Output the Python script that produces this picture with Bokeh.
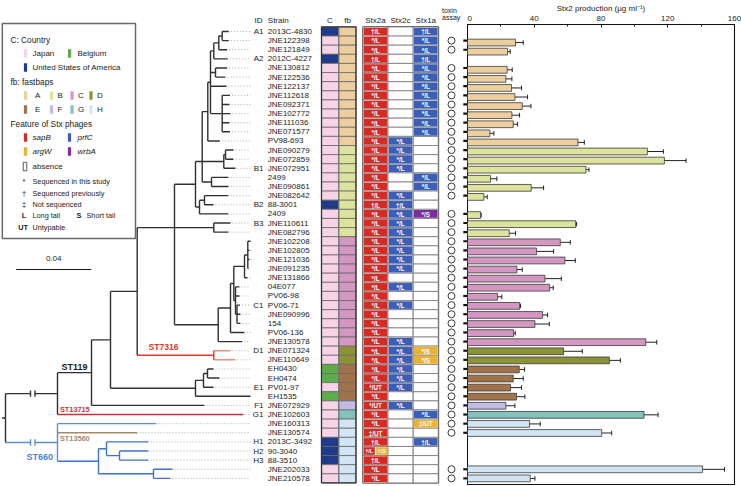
import numpy as np
from bokeh.plotting import figure
from bokeh.models import ColumnDataSource, Range1d, FixedTicker
from bokeh.layouts import row
from bokeh.embed import file_html
from bokeh.resources import INLINE
from bokeh.core.properties import value

# ---------------- data ----------------
strains = ["2013C-4830", "JNE122398", "JNE121849", "2012C-4227", "JNE130812", "JNE122536",
           "JNE122137", "JNE112618", "JNE092371", "JNE102772", "JNE111036", "JNE071577", "PV98-693",
           "JNE090279", "JNE072859", "JNE072951", "2499", "JNE090861", "JNE082642", "88-3001", "2409",
           "JNE110611", "JNE082796", "JNE102208", "JNE102805", "JNE121036", "JNE091235", "JNE131866",
           "04E077", "PV06-98", "PV06-71", "JNE090996", "154", "PV06-136", "JNE130578", "JNE071324",
           "JNE110649", "EH0430", "EH0474", "PV01-97", "EH1535", "JNE072929", "JNE102603", "JNE160313",
           "JNE130574", "2013C-3492", "90-3040", "88-3510", "JNE202033", "JNE210578"]

clade_ids = ["A1", "", "", "A2", "", "", "", "", "", "", "", "", "",
             "", "", "B1", "", "", "", "B2", "", "B3", "", "", "", "", "", "",
             "", "", "C1", "", "", "", "", "D1", "", "", "", "E1", "", "F1", "G1", "",
             "", "H1", "H2", "H3", "", ""]

country = ["USA", "Japan", "Japan", "USA", "Japan", "Japan", "Japan", "Japan", "Japan", "Japan",
           "Japan", "Japan", "Japan", "Japan", "Japan", "Japan", "Japan", "Japan", "Japan", "USA",
           "Japan", "Japan", "Japan", "Japan", "Japan", "Japan", "Japan", "Japan", "Japan", "Japan",
           "Japan", "Japan", "Japan", "Japan", "Japan", "Japan", "Japan", "Belgium", "Belgium", "Japan",
           "Belgium", "Japan", "Japan", "Japan", "Japan", "USA", "USA", "USA", "Japan", "Japan"]

fastbaps = list("AAAAAAAAAAAAABBBBBBBBBBCCCCCCCCCCCCDDEEEEFGHHHHHHH")

# Stx phage features: "insertion site:label"; "" = absence ; "|" = two phages in one cell
stx2a = ["sapB:†/L", "sapB:*/L", "sapB:*/L", "sapB:†/L", "sapB:*/L", "sapB:*/L", "sapB:*/L",
         "sapB:*/L", "sapB:*/L", "sapB:*/L", "sapB:*/L", "sapB:*/L", "sapB:*/L", "sapB:*/L",
         "sapB:*/L", "sapB:*/L", "sapB:*/L", "sapB:*/L", "sapB:*/L", "sapB:†/L", "sapB:*/L",
         "sapB:*/L", "sapB:*/L", "sapB:*/L", "sapB:*/L", "sapB:*/L", "sapB:*/L", "sapB:*/L",
         "sapB:*/L", "sapB:*/L", "sapB:*/L", "sapB:*/L", "sapB:*/L", "sapB:*/L", "sapB:*/L",
         "sapB:*/L", "sapB:*/L", "sapB:*/L", "sapB:*/L", "sapB:*/UT", "sapB:*/L", "sapB:*/UT",
         "sapB:*/L", "sapB:*/L", "sapB:‡/UT", "sapB:†/L", "sapB:†/L|argW:†/S", "sapB:†/L",
         "sapB:*/L", "sapB:*/L"]
stx2c = ["", "", "", "", "", "", "", "", "", "", "", "", "prfC:*/L", "prfC:*/L", "prfC:*/L",
         "prfC:*/L", "", "", "prfC:*/L", "prfC:†/L", "prfC:*/L", "prfC:*/L", "prfC:*/L",
         "prfC:*/L", "prfC:*/L", "prfC:*/L", "prfC:*/L", "", "prfC:*/L", "", "prfC:*/L", "", "",
         "", "prfC:*/L", "prfC:*/L", "prfC:*/L", "prfC:*/L", "prfC:*/L", "prfC:*/L", "",
         "prfC:*/L", "", "", "", "", "", "", "", ""]
stx1a = ["prfC:†/L", "prfC:*/L", "prfC:*/L", "prfC:†/L", "prfC:*/L", "prfC:*/L", "prfC:*/L",
         "prfC:*/L", "prfC:*/L", "prfC:*/L", "prfC:*/L", "prfC:*/L", "", "", "", "",
         "prfC:*/L", "prfC:*/L", "", "", "wrbA:*/S", "", "", "", "", "", "", "", "", "", "", "",
         "", "", "", "argW:*/S", "argW:*/S", "", "", "", "", "", "prfC:*/L", "argW:‡/UT", "",
         "prfC:†/L", "", "", "", ""]

# Stx2 production (µg/ml) and upper end of error bar; None = no toxin assay
stx2_production = [None, 28.8, 24.0, None, 23.8, 23.0, 26.4, 28.4, 32.8, 26.6, 27.4, 13.4, 66.2,
                   107.8, 118.0, 71.0, 13.8, 38.2, 9.8, None, 7.8, 64.8, 25.0, 55.6, 41.4, 58.4,
                   29.6, 46.4, 49.2, 18.0, 31.2, 45.0, 40.4, 27.6, 106.8, 57.6, 85.0, 31.0, 27.4,
                   25.8, 29.4, 23.0, 105.8, 37.2, 80.4, None, None, None, 140.8, 37.6]
stx2_upper = [None, 33.4, 25.6, None, 26.8, 26.6, 32.4, 36.0, 38.0, 31.2, 30.0, 15.8, 70.0,
              117.4, 131.0, 72.8, 17.6, 45.6, 11.8, None, 8.2, 65.4, 28.8, 61.6, 51.6, 64.6,
              32.8, 56.2, 51.4, 20.6, 31.8, 48.0, 49.0, 28.6, 113.4, 68.8, 91.6, 34.2, 33.4,
              32.4, 34.4, 28.4, 114.2, 43.6, 86.4, None, None, None, 154.0, 40.4]

x_ticks = [0, 40, 80, 120, 160]
x_minor = [20, 60, 100, 140]

# phylogeny: depth = distance from root (substitutions/site)
def L(d, r, color=None):
    return {"d": d, "row": r, "color": color}

def N(d, kids, mid=None, color=None, brk=False):
    return {"d": d, "kids": kids, "mid": mid, "color": color, "brk": brk}

D1C, D2C, RED, BRN, BLU = "#E0382C", "#EC8D83", "#C8303F", "#A68B6B", "#5A8ED8"

TREE = N(0, [
    N(0.02773, [
        N(0.04587, [
            N(0.0560, [
                N(0.07024, [
                    N(0.09013, [
                        N(0.10133, [
                            N(0.10491, [
                                N(0.10789, [
                                    N(0.10933, [
                                        N(0.11109, [
                                            N(0.11376, [
                                                N(0.11557, [L(0.11909, 1), L(0.11909, 2)]),
                                                L(0.11824, 3)]),
                                            L(0.11856, 4)]),
                                        N(0.1120, [L(0.11824, 5), L(0.11733, 6)]),
                                        L(0.11787, 7),
                                        N(0.11557, [L(0.11973, 8), L(0.11947, 9), L(0.1200, 10),
                                                    L(0.11947, 11), L(0.11973, 12)], mid=2)]),
                                    L(0.11429, 13)]),
                                N(0.11643, [N(0.11733, [L(0.1216, 14), L(0.1216, 15)]), L(0.12267, 16)]),
                                N(0.10987, [L(0.11893, 17), L(0.11893, 18)])], mid=1),
                            N(0.10347, [N(0.10613, [L(0.11893, 19), L(0.11093, 20)]), L(0.11893, 21)])]),
                        N(0.11109, [L(0.1200, 22), L(0.11893, 23)]),
                        N(0.11344, [
                            N(0.1200, [
                                N(0.12176, [
                                    N(0.12747, [N(0.12923, [L(0.13067, 24), L(0.13013, 25),
                                                            L(0.13013, 26), L(0.1296, 27)]),
                                                L(0.12907, 28)]),
                                    N(0.12267, [L(0.1248, 29), L(0.1248, 30),
                                                N(0.12347, [L(0.12507, 31), L(0.12533, 32), L(0.12533, 33)])])]),
                                L(0.12747, 34)]),
                            L(0.12624, 35)])], mid=1),
                    N(0.11109, [L(0.1200, 36, D2C), L(0.12267, 37, D2C)], color=D1C)]),
                N(0.10133, [N(0.1056, [N(0.10773, [L(0.11093, 38), L(0.11413, 39)]), L(0.11093, 40)]),
                            L(0.13067, 41)])]),
            L(0.10613, 42)]),
        L(0.12693, 43, RED)], brk=True),
    N(0.02773, [
        L(0.08053, 44),
        L(0.0704, 45, BRN),
        N(0.0496, [N(0.05387, [L(0.07627, 46), N(0.0608, [L(0.07627, 47), L(0.07627, 48)])]),
                   N(0.07893, [L(0.08907, 49), L(0.0880, 50)])], color="#3F72C8")], brk=True, color=BLU)])

SCALE_BAR = 0.04

# ---------------- styling / layout ----------------
FONT_NAME = "Liberation Sans"
FONT = value(FONT_NAME)
W, H = 741, 486
ROW0, STEP = 31.0, 9.12
row_y = [ROW0 + i * STEP for i in range(len(strains))]
TREE_X0, PX_PER_SUB = 5.0, 75 / 0.04
LEADER_END = 250.0
BAR_X0, BAR_X1, BAR_TOP, BAR_BOT = 467, 734, 22, 484

country_col = {"Japan": "#F6D3E6", "Belgium": "#5BAE47", "USA": "#1F3C8A"}
fb_col = {"A": "#EDCF9F", "B": "#DCE39C", "C": "#D497C2", "D": "#8C9236",
          "E": "#A2724A", "F": "#C2BBE5", "G": "#80C4BC", "H": "#D2E5F5"}
phage_col = {"sapB": "#D42B24", "prfC": "#3C5EB6", "argW": "#EBB230", "wrbA": "#7B2D9E"}

LEFT_W = BAR_X0
left = figure(width=LEFT_W, height=H, x_range=Range1d(0, LEFT_W), y_range=Range1d(H, 0),
              output_backend="svg", toolbar_location=None, min_border=0,
              x_axis_type=None, y_axis_type=None)
left.outline_line_color = None
left.grid.visible = False
left.frame_align = False

# ---- tree ----
segs = dict(x0=[], y0=[], x1=[], y1=[], color=[])
dots = dict(x0=[], y0=[], x1=[], y1=[])

def add(x0, y0, x1, y1, c):
    segs["x0"].append(x0); segs["y0"].append(y0)
    segs["x1"].append(x1); segs["y1"].append(y1); segs["color"].append(c)

def walk(n, px, pcol):
    col = n["color"] or pcol
    x = TREE_X0 + n["d"] * PX_PER_SUB
    if "row" in n:
        y = row_y[n["row"] - 1]
        if x < LEADER_END - 1:
            dots["x0"].append(x + 2); dots["y0"].append(y)
            dots["x1"].append(LEADER_END); dots["y1"].append(y)
    else:
        ys = [walk(k, x, col) for k in n["kids"]]
        y = ys[n["mid"]] if n["mid"] is not None else (ys[0] + ys[-1]) / 2
        add(x, ys[0], x, ys[-1], col)
    if px is not None:
        if n.get("brk"):
            a, b = px + 25, px + 29.5
            add(px, y, a, y, col); add(b, y, x, y, col)
            add(a, y - 3.2, a, y + 3.2, col); add(b, y - 3.2, b, y + 3.2, col)
        else:
            add(px, y, x, y, col)
    return y

root_y = walk(TREE, None, "#303030")
add(TREE_X0 - 3.5, root_y, TREE_X0, root_y, "#303030")
left.segment("x0", "y0", "x1", "y1", source=ColumnDataSource(dots), line_color="#999999",
             line_width=0.8, line_dash="1 2")
left.segment("x0", "y0", "x1", "y1", source=ColumnDataSource(segs), line_color="color", line_width=1.4)

def txt(fig, xs, ys, ts, size="8px", color="#1a1a1a", align="left", style="normal", baseline="middle"):
    fig.text(x=xs, y=ys, text=ts, text_font=FONT, text_font_size=size, text_color=color,
             text_align=align, text_baseline=baseline, text_font_style=style)

# clade labels
txt(left, [61], [366.5], ["ST119"], "9px", "#1a1a1a", style="bold")
txt(left, [59.5], [408.5], ["ST13715"], "7.3px", RED, style="bold")
txt(left, [148], [346.5], ["ST7316"], "8.6px", D1C, style="bold")
txt(left, [59.5], [437.5], ["ST13560"], "7.3px", BRN, style="bold")
txt(left, [26], [456], ["ST660"], "9px", "#4A82D4", style="bold")

# scale bar
left.segment(x0=[15.7], y0=[269], x1=[15.7 + SCALE_BAR * PX_PER_SUB], y1=[269], line_color="#1a1a1a", line_width=1)
txt(left, [15.7 + SCALE_BAR * PX_PER_SUB / 2], [257.5], [f"{SCALE_BAR:.2f}"], "8px", align="center")

# ---- ID / strain labels ----
id_y = [y for y, c in zip(row_y, clade_ids) if c]
id_t = [c for c in clade_ids if c]
txt(left, [263] * len(id_y), id_y, id_t, "8px", align="right")
txt(left, [267.3] * len(row_y), row_y, strains, "8px")
txt(left, [254, 267.3], [20, 20], ["ID", "Strain"], "8px")
txt(left, [329.5, 347, 375, 400, 425.3], [20] * 5, ["C", "fb", "Stx2a", "Stx2c", "Stx1a"], "8px", align="center")
txt(left, [441.5, 441.5], [9.5, 17], ["toxin", "assay"], "7px")

# ---- C / fb columns ----
left.rect(x=[329.5] * len(row_y), y=row_y, width=17, height=STEP,
          fill_color=[country_col[c] for c in country], line_color="#6a6a6a", line_width=0.8)
left.rect(x=[347] * len(row_y), y=row_y, width=17, height=STEP,
          fill_color=[fb_col[f] for f in fastbaps], line_color="#6a6a6a", line_width=0.8)
top_edge, bot_edge = row_y[0] - STEP / 2, row_y[-1] + STEP / 2
left.quad(left=[321, 362.5], right=[355.5, 438], top=[top_edge] * 2, bottom=[bot_edge] * 2,
          fill_color=None, line_color="#333333", line_width=1.3)

# ---- Stx columns ----
cx, cy, cw, cc, tx, ty, tt, fs = [], [], [], [], [], [], [], []
wx, wy = [], []
for col_x, colvals in zip([375, 400, 425.3], [stx2a, stx2c, stx1a]):
    for y, v in zip(row_y, colvals):
        wx.append(col_x); wy.append(y)
        if not v:
            continue
        parts = v.split("|")
        n = len(parts)
        w = 25.0 / n
        for k, p in enumerate(parts):
            site, lab = p.split(":")
            xc = col_x - 12.5 + w * (k + 0.5)
            cx.append(xc); cy.append(y); cw.append(w - 1.4); cc.append(phage_col[site])
            tx.append(xc); ty.append(y + 0.3); tt.append(lab)
            fs.append("6.3px" if n == 1 else "5.6px")
left.rect(x=wx, y=wy, width=25, height=STEP, fill_color="white", line_color="#777777", line_width=0.8)
left.rect(x=cx, y=cy, width=cw, height=STEP - 1.5, fill_color=cc, line_color=None)
for size in sorted(set(fs)):
    idx = [i for i, f in enumerate(fs) if f == size]
    txt(left, [tx[i] for i in idx], [ty[i] for i in idx], [tt[i] for i in idx], size, "white",
        align="center", style="bold")

# ---- toxin assay circles and row ticks of the bar chart ----
assay_y = [y for y, v in zip(row_y, stx2_production) if v is not None]
left.scatter(x=[451] * len(assay_y), y=assay_y, size=7, marker="circle", fill_color="white",
             line_color="#222222", line_width=0.9)
left.segment(x0=[BAR_X0 - 4.2] * len(assay_y), y0=assay_y, x1=[BAR_X0 + 1] * len(assay_y), y1=assay_y,
             line_color="#111111", line_width=2.2)

# ---- legend ----
left.quad(left=[1.8], right=[135], top=[23], bottom=[238], fill_color="white", line_color="#6a6a6a", line_width=1.5)
txt(left, [10, 10, 10], [39.7, 81, 123], ["C: Country", "fb: fastbaps", "Feature of Stx phages"], "8.3px")
sw_x = [25, 69, 25, 25, 51, 71.5, 90.5, 25, 51, 71.5, 90.5, 25, 69, 25, 69]
sw_y = [53, 53, 67, 95, 95, 95, 95, 109, 109, 109, 109, 137, 137, 151, 151]
sw_c = [country_col["Japan"], country_col["Belgium"], country_col["USA"]] + \
       [fb_col[k] for k in "ABCDEFGH"] + [phage_col[k] for k in ["sapB", "prfC", "argW", "wrbA"]]
left.rect(x=sw_x, y=sw_y, width=3.2, height=8.5, fill_color=sw_c, line_color=None)
txt(left, [32, 77, 32], [53, 53, 67], ["Japan", "Belgium", "United States of America"], "8px")
txt(left, [34.5, 57, 77.5, 96.5, 34.5, 57, 77.5, 96.5], [95] * 4 + [109] * 4, list("ABCDEFGH"), "8px")
txt(left, [32, 77, 32, 77], [137, 137, 151, 151], ["sapB", "prfC", "argW", "wrbA"], "8px", style="italic")
left.rect(x=[24.5], y=[166], width=3.5, height=8.5, fill_color="white", line_color="#333333", line_width=0.8)
txt(left, [32], [166], ["absence"], "8px")
txt(left, [23.5, 23.5, 23.5], [180.5, 192.5, 203.5], ["*", "†", "‡"], "7.3px", align="center")
txt(left, [32, 32, 32, 32, 86, 32], [180.5, 192.5, 203.5, 215, 215, 227],
    ["Sequenced in this study", "Sequenced previously", "Not sequenced", "Long tail", "Short tail", "Untypable"], "7.3px")
txt(left, [23.5, 78.5, 22.5], [215, 215, 227], ["L", "S", "UT"], "7.3px", align="center", style="bold")

# ---------------- bar chart ----------------
right = figure(width=W - LEFT_W, height=H, x_range=Range1d(0, 160), y_range=Range1d(BAR_BOT, BAR_TOP),
               x_axis_location="above", y_axis_location=None, output_backend="svg", toolbar_location=None,
               min_border_left=0, min_border_right=W - BAR_X1, min_border_top=BAR_TOP,
               min_border_bottom=H - BAR_BOT)
right.frame_align = False
right.xgrid.visible = False
right.ygrid.visible = False
right.outline_line_color = "#111111"
right.outline_line_width = 1.1

bar_y = [y for y, v in zip(row_y, stx2_production) if v is not None]
bar_v = [v for v in stx2_production if v is not None]
bar_e = [e for e in stx2_upper if e is not None]
bar_c = [fb_col[f] for f, v in zip(fastbaps, stx2_production) if v is not None]
src = ColumnDataSource(dict(y=bar_y, v=bar_v, e=bar_e, c=bar_c,
                            ylo=[y - 2.3 for y in bar_y], yhi=[y + 2.3 for y in bar_y]))
right.segment(x0="v", y0="y", x1="e", y1="y", source=src, line_color="#222222", line_width=1)
right.segment(x0="e", y0="ylo", x1="e", y1="yhi", source=src, line_color="#222222", line_width=1)
right.hbar(y="y", left=0, right="v", height=6.8, source=src, fill_color="c", line_color="#3a3a3a", line_width=0.8)

xa = right.xaxis[0]
xa.ticker = FixedTicker(ticks=x_ticks, minor_ticks=x_minor)
xa.major_tick_in, xa.major_tick_out = 3, 0
xa.minor_tick_in, xa.minor_tick_out = 2, 0
xa.major_tick_line_color = "#111111"
xa.minor_tick_line_color = "#111111"
xa.axis_line_color = "#111111"
xa.major_label_standoff = 4
xa.major_label_text_font = FONT_NAME
xa.major_label_text_font_size = "8px"
xa.major_label_text_color = "#1a1a1a"
xa.axis_label = "Stx2 production (µg ml⁻¹)"
xa.axis_label_standoff = 0
xa.axis_label_text_font = FONT_NAME
xa.axis_label_text_font_size = "8px"
xa.axis_label_text_font_style = "normal"
xa.axis_label_text_color = "#1a1a1a"

layout = row(left, right)
open("out.html", "w").write(file_html(layout, INLINE))
